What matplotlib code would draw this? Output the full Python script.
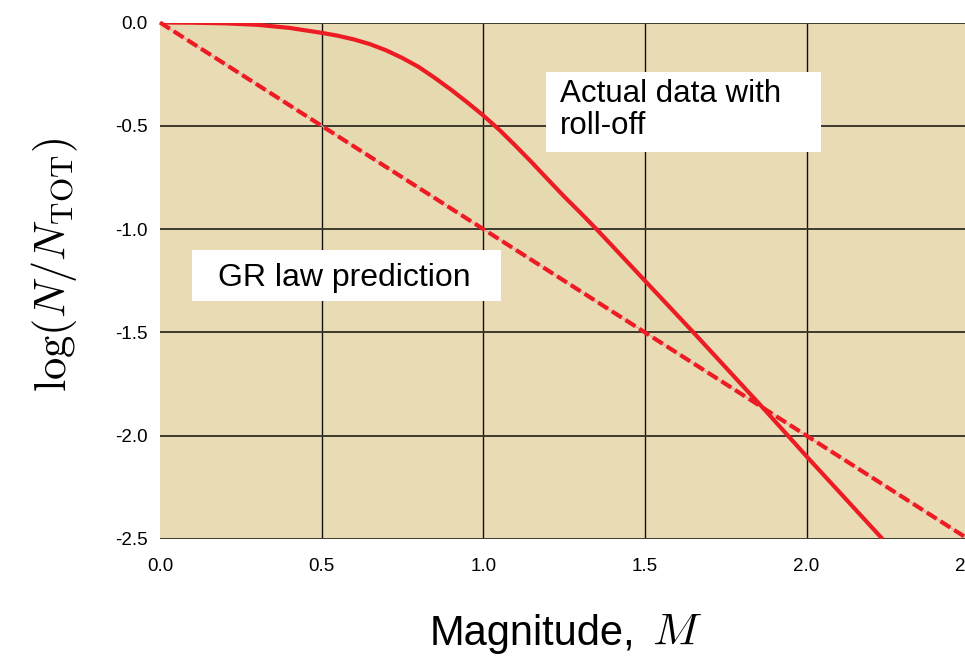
import matplotlib
matplotlib.use("Agg")
import matplotlib.pyplot as plt
from matplotlib.patches import Rectangle

plt.rcParams["font.family"] = ["Liberation Sans", "DejaVu Sans"]
plt.rcParams["mathtext.fontset"] = "cm"

# magnitude vs log(N/N_TOT)
actual_m = [0.0, 0.1, 0.2, 0.3, 0.4, 0.5, 0.55, 0.6, 0.65, 0.7, 0.75, 0.8,
            0.85, 0.9, 0.95, 1.0, 1.05, 1.1, 1.15, 1.2, 1.25, 1.3, 1.35,
            1.4, 1.5, 1.65, 1.865, 2.0, 2.235]
actual_y = [0.0, -0.001, -0.004, -0.011, -0.026, -0.05, -0.064, -0.082,
            -0.105, -0.135, -0.172, -0.215, -0.268, -0.325, -0.386, -0.45,
            -0.52, -0.597, -0.677, -0.76, -0.842, -0.92, -1.0, -1.083, -1.25,
            -1.5, -1.865, -2.1, -2.5]
cross_idx = 26  # where the actual curve meets the GR line

gr_m = [0.0, 2.5]
gr_y = [0.0, -2.5]

x_ticks = [0.0, 0.5, 1.0, 1.5, 2.0, 2.5]
y_ticks = [0.0, -0.5, -1.0, -1.5, -2.0, -2.5]

RED = "#ED1C24"
BG = "#E9DCB5"

fig = plt.figure(figsize=(9.65, 6.56), dpi=100)
ax = fig.add_axes([0.1658, 0.1784, 0.8375, 0.7873])
ax.set_facecolor(BG)

# faint shading between the two curves
ax.fill(actual_m[:cross_idx + 1], actual_y[:cross_idx + 1], color="#E5D9B0", lw=0, zorder=1)

ax.set_xlim(0, 2.5)
ax.set_ylim(-2.5, 0)
ax.set_xticks(x_ticks)
ax.set_yticks(y_ticks)
ax.set_xticklabels([f"{v:.1f}" for v in x_ticks])
ax.set_yticklabels([f"{v:.1f}" for v in y_ticks])
ax.tick_params(length=0, labelsize=13.5)
ax.tick_params(axis="x", pad=14)
ax.tick_params(axis="y", pad=9)
for s in ax.spines.values():
    s.set_visible(False)

ax.grid(axis="x", color="#111111", lw=1.0, zorder=2)
ax.grid(axis="y", color="#3c392e", lw=1.4, zorder=2)
ax.xaxis.get_gridlines()[0].set_visible(False)

# GR law: dashed with a thin pale line running through it
ax.plot(gr_m, gr_y, color="#F29A9A", lw=0.8, zorder=3, clip_on=False)
ax.plot(gr_m, gr_y, color=RED, lw=3, dashes=(2.8, 1.1), zorder=4, clip_on=False)
ax.plot(actual_m, actual_y, color=RED, lw=3, zorder=5, solid_capstyle="butt",
        solid_joinstyle="round")

# annotation boxes
fig.patches.append(Rectangle((0.199, 0.541), 0.320, 0.078, transform=fig.transFigure,
                             facecolor="white", edgecolor="none", zorder=6))
fig.text(0.226, 0.564, "GR law prediction", fontsize=23, va="baseline", zorder=7)
fig.patches.append(Rectangle((0.566, 0.768), 0.285, 0.122, transform=fig.transFigure,
                             facecolor="white", edgecolor="none", zorder=6))
fig.text(0.580, 0.8796, "Actual data with\nroll-off", fontsize=22.5, va="top",
         linespacing=1.1, zorder=7)

# x label: sans word plus a serif italic M
fig.text(0.658, 0.0168, "Magnitude,", fontsize=30, ha="right", va="baseline")
fig.text(0.676, 0.0168, "$M$", fontsize=33, ha="left", va="baseline")

ax.set_ylabel(r"$\log(N/N_{\rm TOT})$", fontsize=32)
ax.yaxis.set_label_coords(-0.13, 0.53)
ax.yaxis.label.set_va("center")

fig.savefig("out.png", dpi=100)
